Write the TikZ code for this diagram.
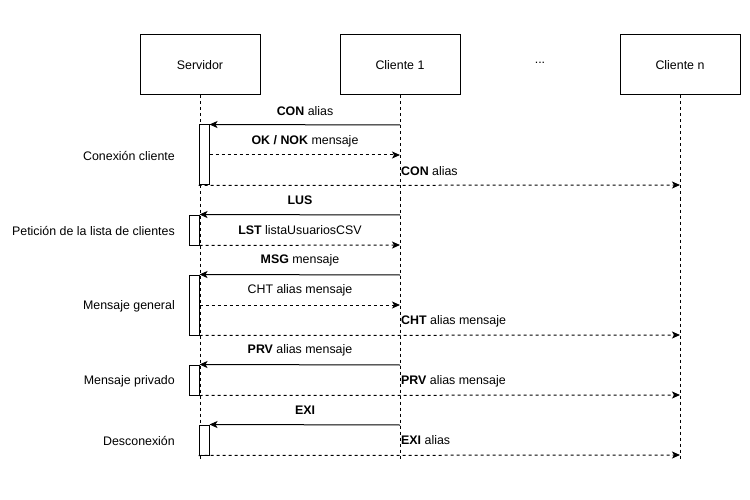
\documentclass[tikz,border=0pt]{standalone}
\usepackage{fontspec}
\setmainfont{Liberation Sans}
\usetikzlibrary{arrows.meta}
\begin{document}
\begin{tikzpicture}[x=1pt,y=-1pt,
  every node/.style={font=\fontsize{12.4}{14}\selectfont},
  actor/.style={draw, fill=white, line width=1pt, minimum width=120pt, minimum height=60pt, inner sep=0},
  act/.style={draw, fill=white, line width=1pt, minimum width=10pt, inner sep=0},
  life/.style={dash pattern=on 3pt off 3pt, line width=1pt},
  msg/.style={-{Stealth[length=8pt,width=7pt,inset=2pt]}, line width=1pt},
  ret/.style={msg, dash pattern=on 3pt off 3pt},
  lbl/.style={inner sep=0, anchor=center},
  lbll/.style={inner sep=0, anchor=west},
  side/.style={inner sep=0, anchor=east}]
\useasboundingbox (0,0) rectangle (750,500);

% actors
\node[actor] (srv) at (200,65) {Servidor};
\node[actor] (c1) at (400,65) {Cliente 1};
\node[actor] (cn) at (680,65) {Cliente n};
\node[inner sep=0] (dots) at (540,63) {...};

% lifelines
\coordinate (srvE) at (200,460);
\coordinate (c1E) at (400,460);
\coordinate (cnE) at (680,460);
\draw[life] (srv.south) -- (srvE);
\draw[life] (c1.south) -- (c1E);
\draw[life] (cn.south) -- (cnE);

% activation boxes
\node[act, minimum height=60pt] (a1) at (204,155) {};
\node[act, minimum height=30pt] (a2) at (194,230) {};
\node[act, minimum height=60pt] (a3) at (194,305) {};
\node[act, minimum height=30pt] (a4) at (194,380) {};
\node[act, minimum height=30pt] (a5) at (204,440) {};

% endpoints on lifelines
\coordinate (p1) at (400,125);
\coordinate (p2) at (400,155);
\coordinate (p3) at (680,185);
\coordinate (p4) at (400,215);
\coordinate (p5) at (400,245);
\coordinate (p6) at (400,275);
\coordinate (p7) at (400,305);
\coordinate (p8) at (680,335);
\coordinate (p9) at (400,365);
\coordinate (p10) at (680,395);
\coordinate (p11) at (400,425);
\coordinate (p12) at (680,455);

% messages
\draw[msg] (p1) -- (a1.north east);
\node[lbl] (l1) at (305,111) {\textbf{CON} alias};
\draw[ret] (a1.east) -- (p2);
\node[lbl] (l2) at (305,141) {\textbf{OK / NOK} mensaje};
\draw[ret] (a1.south west) -- (p3);
\node[lbll] (l3) at (401,171) {\textbf{CON} alias};

\draw[msg] (p4) -- (a2.north east);
\node[lbl] (l4) at (300,200) {\textbf{LUS}};
\draw[ret] (a2.south east) -- (p5);
\node[lbl] (l5) at (300,230) {\textbf{LST} listaUsuariosCSV};

\draw[msg] (p6) -- (a3.north east);
\node[lbl] (l6) at (300,260) {\textbf{MSG} mensaje};
\draw[ret] (a3.east) -- (p7);
\node[lbl] (l7) at (300,290) {CHT alias mensaje};
\draw[ret] (a3.south east) -- (p8);
\node[lbll] (l8) at (401,321) {\textbf{CHT} alias mensaje};

\draw[msg] (p9) -- (a4.north east);
\node[lbl] (l9) at (300,350) {\textbf{PRV} alias mensaje};
\draw[ret] (a4.south east) -- (p10);
\node[lbll] (l10) at (401,381) {\textbf{PRV} alias mensaje};

\draw[msg] (p11) -- (a5.north east);
\node[lbl] (l11) at (305,410) {\textbf{EXI}};
\draw[ret] (a5.south west) -- (p12);
\node[lbll] (l12) at (401,440) {\textbf{EXI} alias};

% side labels
\node[side] (s1) at (175,156) {Conexión cliente};
\node[side] (s2) at (175,231) {Petición de la lista de clientes};
\node[side] (s3) at (175,306) {Mensaje general};
\node[side] (s4) at (175,381) {Mensaje privado};
\node[side] (s5) at (175,441) {Desconexión};
\end{tikzpicture}
\end{document}
